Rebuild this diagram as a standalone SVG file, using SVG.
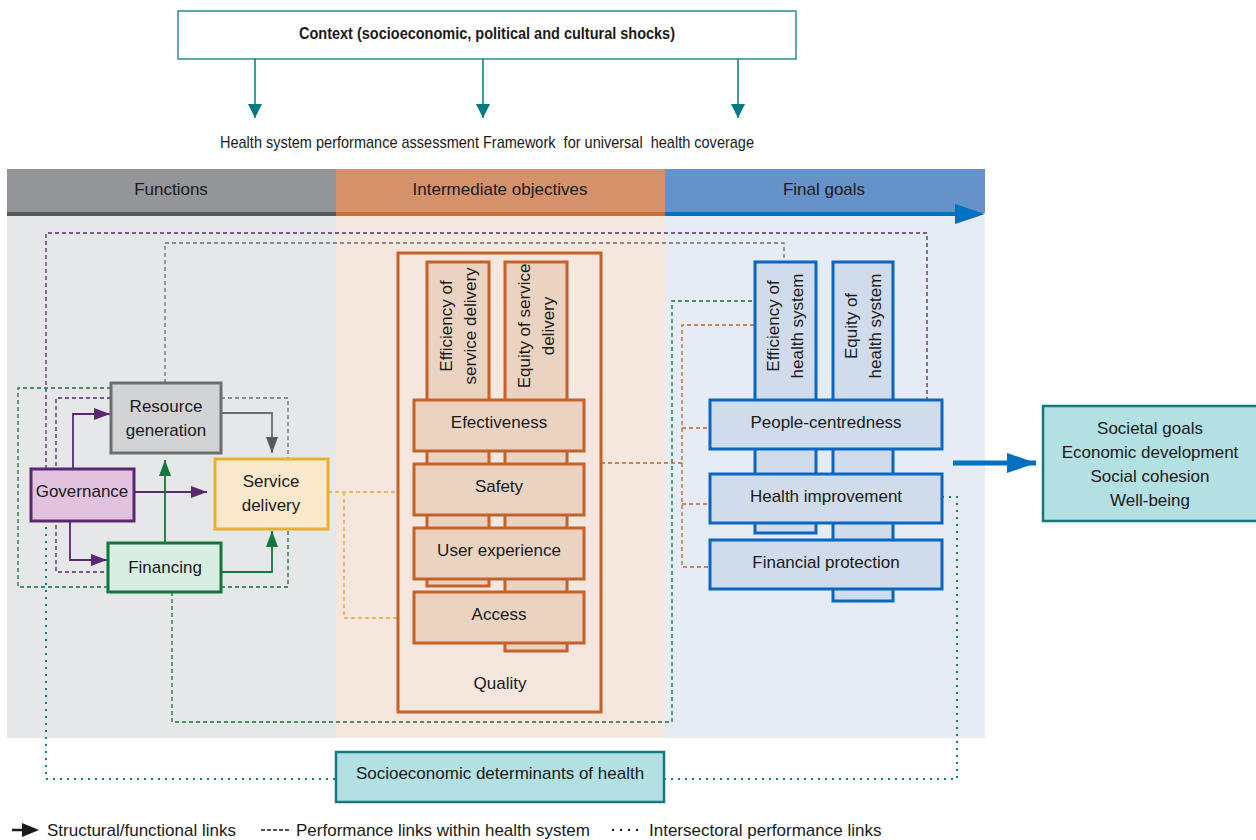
<svg xmlns="http://www.w3.org/2000/svg" width="1256" height="840" viewBox="0 0 1256 840">
<style>
text{font-family:"Liberation Sans Narrow","Liberation Sans",Arial,sans-serif;font-stretch:condensed;fill:#1a1a1a;font-size:17px}
.c{text-anchor:middle}
.b{font-weight:bold}
.dp{fill:none;stroke-width:1.3;stroke-dasharray:4 3}
.dt{fill:none;stroke:#137f85;stroke-width:2;stroke-dasharray:2 5}
.ar{fill:none;stroke-width:1.8}
.ca{fill:none;stroke:#007b85;stroke-width:1.5}
.ob{fill:#ebd3c1;stroke:#c8602a;stroke-width:3}
.bb{fill:#d0dbec;stroke:#0a66c2;stroke-width:3}
</style>
<defs>
<marker id="mP" viewBox="0 0 16 12" refX="16" refY="6" markerWidth="16" markerHeight="12" markerUnits="userSpaceOnUse" orient="auto"><path d="M0 0L16 6L0 12z" fill="#5b2770"/></marker>
<marker id="mG" viewBox="0 0 16 12" refX="16" refY="6" markerWidth="16" markerHeight="12" markerUnits="userSpaceOnUse" orient="auto"><path d="M0 0L16 6L0 12z" fill="#12773d"/></marker>
<marker id="mK" viewBox="0 0 16 12" refX="16" refY="6" markerWidth="16" markerHeight="12" markerUnits="userSpaceOnUse" orient="auto"><path d="M0 0L16 6L0 12z" fill="#58595b"/></marker>
<marker id="mT" viewBox="0 0 14 14" refX="14" refY="7" markerWidth="14" markerHeight="14" markerUnits="userSpaceOnUse" orient="auto"><path d="M0 0L14 7L0 14z" fill="#007b85"/></marker>
<marker id="mB" viewBox="0 0 29 20" refX="29" refY="10" markerWidth="29" markerHeight="20" markerUnits="userSpaceOnUse" orient="auto"><path d="M0 0L29 10L0 20z" fill="#0070c0"/></marker>
</defs>
<rect width="1256" height="840" fill="#ffffff"/>

<!-- column backgrounds -->
<g id="columns">
<rect x="7" y="216" width="329" height="522" fill="#e6e7e9"/>
<rect x="336" y="216" width="329" height="522" fill="#f5e6de"/>
<rect x="665" y="216" width="320" height="522" fill="#e5ecf5"/>
<rect x="7" y="169" width="329" height="44" fill="#939598"/>
<rect x="336" y="169" width="329" height="44" fill="#d4916a"/>
<rect x="665" y="169" width="320" height="44" fill="#6592c9"/>
<rect x="7" y="212" width="329" height="4" fill="#58595b"/>
<rect x="336" y="212" width="329" height="4" fill="#c96f3d"/>
<rect x="665" y="212" width="292" height="4" fill="#0070c0"/>
<path d="M955 204L985 214L955 224z" fill="#0070c0"/>
<text class="c" x="171" y="195">Functions</text>
<text class="c" x="500" y="195">Intermediate objectives</text>
<text class="c" x="824" y="195">Final goals</text>
</g>

<!-- context -->
<g id="context">
<rect x="178" y="11" width="618" height="48" fill="#ffffff" stroke="#2a8c95" stroke-width="1.5"/>
<text class="c b" x="487" y="39" textLength="376" lengthAdjust="spacingAndGlyphs">Context (socioeconomic, political and cultural shocks)</text>
</g>
<g id="title">
<text class="c" x="487" y="148" xml:space="preserve" textLength="534" lengthAdjust="spacingAndGlyphs">Health system performance assessment Framework  for universal  health coverage</text>
</g>

<!-- connectors -->
<g id="connectors">
<path class="ca" d="M255 59V118" marker-end="url(#mT)"/>
<path class="ca" d="M483 59V118" marker-end="url(#mT)"/>
<path class="ca" d="M738 59V118" marker-end="url(#mT)"/>
<path class="dp" stroke="#5b2770" d="M46 469V233H927V399"/>
<path class="dp" stroke="#5b2770" d="M111 398H56V572H108"/>
<path class="dp" stroke="#6d6e71" d="M165 383V243H784V262"/>
<path class="dp" stroke="#6d6e71" d="M221 398H288V459"/>
<path class="dp" stroke="#12773d" d="M111 388H18V587H108"/>
<path class="dp" stroke="#12773d" d="M221 587H288V529"/>
<path class="dp" stroke="#12773d" d="M172 592V722H672V301H754"/>
<path class="dp" stroke="#e8a825" d="M328 492H397M344 492V618H397"/>
<path class="dp" stroke="#c8602a" d="M601 463H682M754 325H682V567H710M682 428H710M682 504H710"/>
<path class="dt" d="M46 527V779H336"/>
<path class="dt" d="M942 497H957V779H664"/>
<path class="ar" stroke="#5b2770" d="M73 469V414H110" marker-end="url(#mP)"/>
<path class="ar" stroke="#5b2770" d="M134 492H207" marker-end="url(#mP)"/>
<path class="ar" stroke="#5b2770" d="M70 521V560H107" marker-end="url(#mP)"/>
<path class="ar" stroke="#12773d" d="M165 543V460" marker-end="url(#mG)"/>
<path class="ar" stroke="#12773d" d="M221 572H272V531" marker-end="url(#mG)"/>
<path class="ar" stroke="#6d6e71" d="M221 413H272V453" marker-end="url(#mK)"/>
<path d="M953 463H1036" stroke="#0070c0" stroke-width="5" fill="none" marker-end="url(#mB)"/>
</g>

<!-- function nodes -->
<g id="resource-generation">
<rect x="111" y="383" width="110" height="70" fill="#d1d3d4" stroke="#6d6e71" stroke-width="3"/>
<text class="c" x="166" y="412">Resource</text>
<text class="c" x="166" y="436">generation</text>
</g>
<g id="governance">
<rect x="31" y="469" width="103" height="52" fill="#e1c3e0" stroke="#5b2770" stroke-width="3"/>
<text class="c" x="82" y="497">Governance</text>
</g>
<g id="service-delivery">
<rect x="215" y="459" width="113" height="70" fill="#f9e8cb" stroke="#e8b030" stroke-width="3"/>
<text class="c" x="271" y="487">Service</text>
<text class="c" x="271" y="511">delivery</text>
</g>
<g id="financing">
<rect x="108" y="543" width="113" height="49" fill="#d8eee3" stroke="#12773d" stroke-width="3"/>
<text class="c" x="165" y="573">Financing</text>
</g>

<!-- quality -->
<g id="quality">
<rect x="398" y="253" width="203" height="459" fill="#f5e6de" stroke="#c8602a" stroke-width="3"/>
<text class="c" x="500" y="689">Quality</text>
</g>
<g id="efficiency-service-delivery">
<rect class="ob" x="427" y="262" width="62" height="324"/>
<text class="c" transform="translate(452 326) rotate(-90)">Efficiency of</text>
<text class="c" transform="translate(476 326) rotate(-90)">service delivery</text>
</g>
<g id="equity-service-delivery">
<rect class="ob" x="505" y="262" width="62" height="389"/>
<text class="c" transform="translate(530 326) rotate(-90)">Equity of service</text>
<text class="c" transform="translate(554 326) rotate(-90)">delivery</text>
</g>
<g id="effectiveness">
<rect class="ob" x="414" y="400" width="170" height="51"/>
<text class="c" x="499" y="428">Efectiveness</text>
</g>
<g id="safety">
<rect class="ob" x="414" y="464" width="170" height="51"/>
<text class="c" x="499" y="492">Safety</text>
</g>
<g id="user-experience">
<rect class="ob" x="414" y="528" width="170" height="51"/>
<text class="c" x="499" y="556">User experience</text>
</g>
<g id="access">
<rect class="ob" x="414" y="592" width="170" height="51"/>
<text class="c" x="499" y="620">Access</text>
</g>

<!-- final goals -->
<g id="efficiency-health-system">
<rect class="bb" x="755" y="262" width="61" height="271"/>
<text class="c" transform="translate(779 326) rotate(-90)">Efficiency of</text>
<text class="c" transform="translate(803 326) rotate(-90)">health system</text>
</g>
<g id="equity-health-system">
<rect class="bb" x="833" y="262" width="60" height="339"/>
<text class="c" transform="translate(857 326) rotate(-90)">Equity of</text>
<text class="c" transform="translate(881 326) rotate(-90)">health system</text>
</g>
<g id="people-centredness">
<rect class="bb" x="710" y="400" width="232" height="49"/>
<text class="c" x="826" y="428">People-centredness</text>
</g>
<g id="health-improvement">
<rect class="bb" x="710" y="474" width="232" height="49"/>
<text class="c" x="826" y="502">Health improvement</text>
</g>
<g id="financial-protection">
<rect class="bb" x="710" y="540" width="232" height="49"/>
<text class="c" x="826" y="568">Financial protection</text>
</g>

<!-- societal goals -->
<g id="societal-goals">
<rect x="1043" y="406" width="215" height="115" fill="#b2e0e3" stroke="#137a80" stroke-width="2.5"/>
<text class="c" x="1150" y="434">Societal goals</text>
<text class="c" x="1150" y="458">Economic development</text>
<text class="c" x="1150" y="482">Social cohesion</text>
<text class="c" x="1150" y="506">Well-being</text>
</g>

<g id="socioeconomic-determinants">
<rect x="336" y="752" width="328" height="50" fill="#b2e0e3" stroke="#137a80" stroke-width="2.5"/>
<text class="c" x="500" y="779">Socioeconomic determinants of health</text>
</g>

<!-- legend -->
<g id="legend">
<path d="M12 830H24" stroke="#1a1a1a" stroke-width="2.5"/>
<path d="M22 823L39 830L22 837z" fill="#1a1a1a"/>
<text x="47" y="836">Structural/functional links</text>
<path d="M261 830H289" stroke="#1a1a1a" stroke-width="1.3" stroke-dasharray="4 2"/>
<text x="296" y="836">Performance links within health system</text>
<path d="M612 830H642" stroke="#1a1a1a" stroke-width="2" stroke-dasharray="2 6"/>
<text x="649" y="836">Intersectoral performance links</text>
</g>
</svg>
